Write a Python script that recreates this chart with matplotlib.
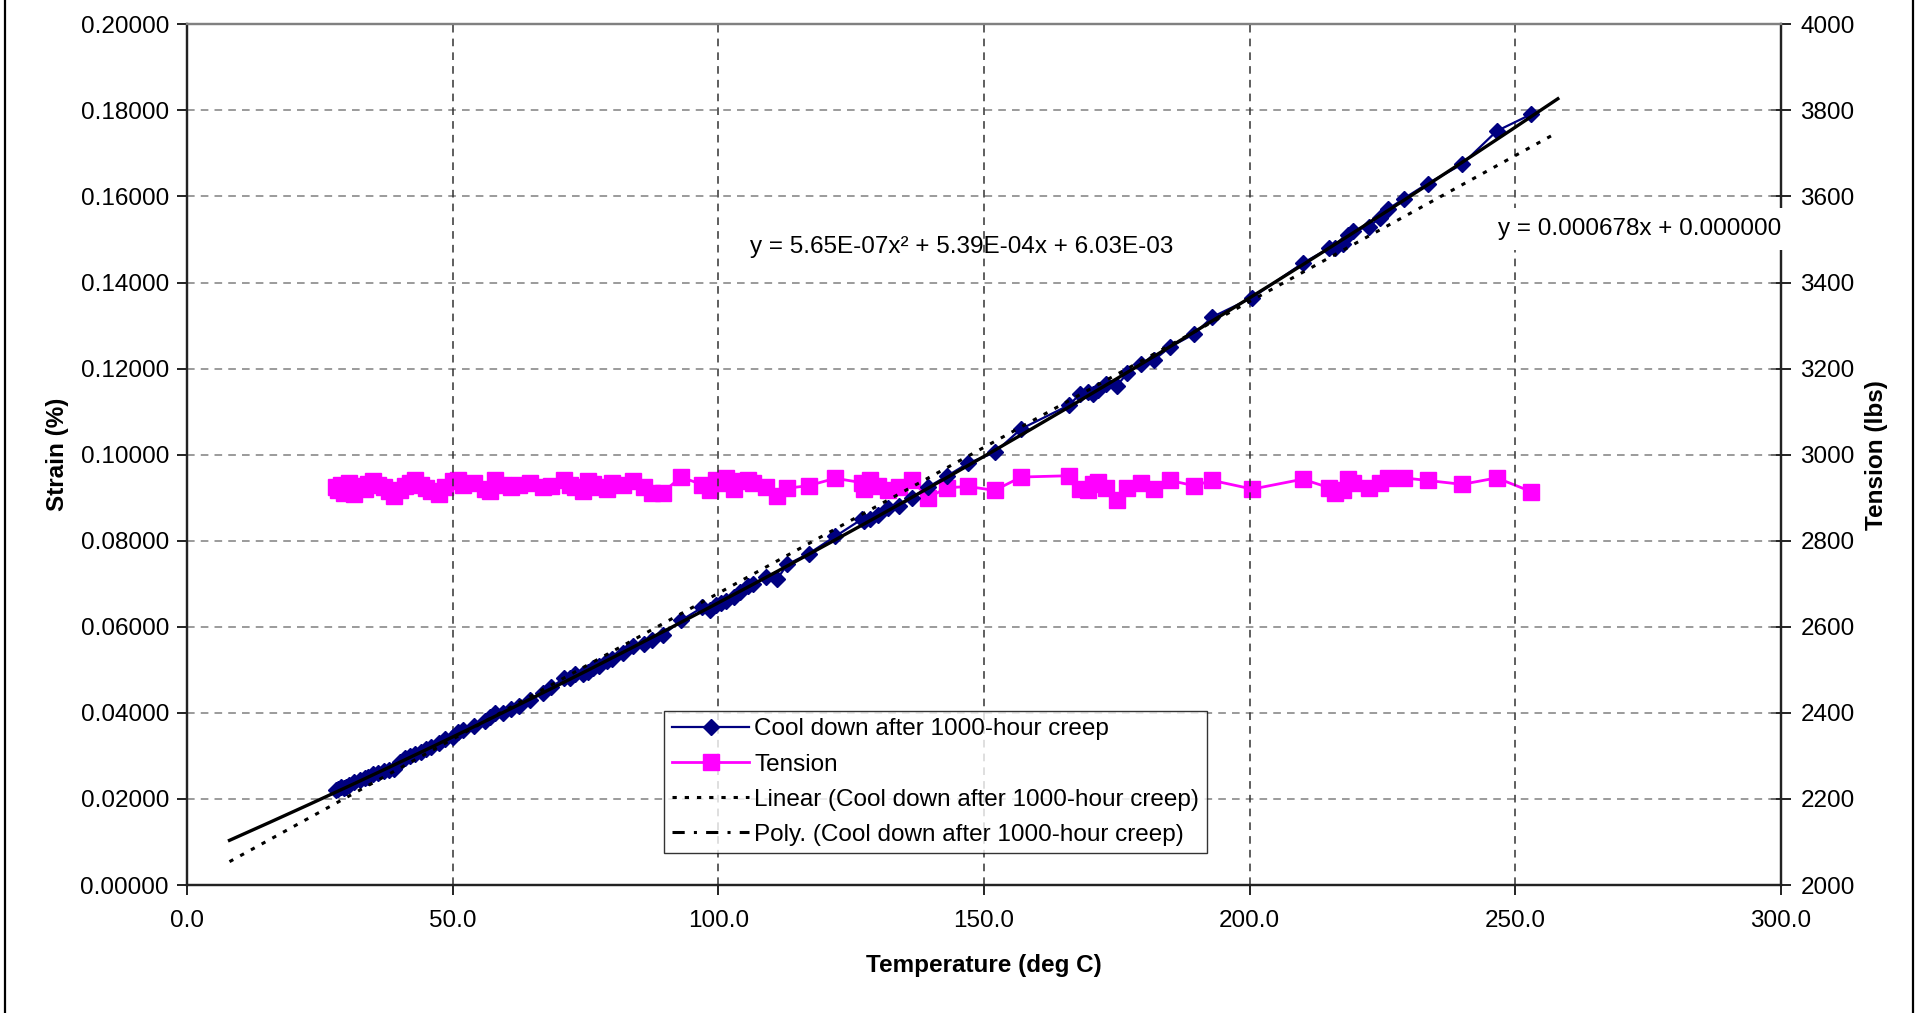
import matplotlib
matplotlib.use("Agg")
import matplotlib.pyplot as plt
from matplotlib.lines import Line2D
from matplotlib.ticker import FormatStrFormatter
import numpy as np

plt.rcParams['font.family'] = ['Liberation Sans', 'DejaVu Sans']

temperature = [
    28, 28.5, 29, 29.5, 30, 30.5, 31.5, 32.5, 33.5, 34,
    35, 36, 37, 38, 39, 40, 41, 42, 43, 44,
    45, 46, 47.5, 48.5, 50, 51, 52, 54, 56, 57,
    58, 59.5, 61, 62.5, 64.5, 67, 68.5, 71, 72, 73,
    74.5, 75.5, 76.5, 77.5, 79, 80, 82, 84, 86, 87.5,
    89.5, 93, 97, 98.5, 99.5, 100.5, 101.5, 103, 104, 105.5,
    106.5, 109, 111, 113, 117, 122, 127, 127.5, 128.5, 130,
    132, 134, 136.5, 139.5, 143, 147, 152, 157, 166, 168,
    169.5, 170.5, 171.5, 173, 175, 177, 179.5, 182, 185, 189.5,
    193, 200.5, 210, 215, 216, 217.5, 218.5, 219.5, 222.5, 224.5,
    226, 229, 233.5, 240, 246.5, 253]

strain = [
    0.0220, 0.0224, 0.0228, 0.0225, 0.0228, 0.0232, 0.0240, 0.0245, 0.0248, 0.0250,
    0.0258, 0.0260, 0.0265, 0.0268, 0.0270, 0.0285, 0.0295, 0.0300, 0.0305, 0.0310,
    0.0315, 0.0320, 0.0330, 0.0340, 0.0345, 0.0355, 0.0360, 0.0370, 0.0380, 0.0390,
    0.0400, 0.0400, 0.0410, 0.0415, 0.0430, 0.0445, 0.0460, 0.0480, 0.0480, 0.0490,
    0.0490, 0.0495, 0.0505, 0.0510, 0.0520, 0.0525, 0.0540, 0.0555, 0.0560, 0.0570,
    0.0580, 0.0615, 0.0645, 0.0640, 0.0650, 0.0655, 0.0660, 0.0670, 0.0680, 0.0695,
    0.0700, 0.0715, 0.0710, 0.0745, 0.0770, 0.0810, 0.0850, 0.0845, 0.0850, 0.0860,
    0.0875, 0.0880, 0.0900, 0.0925, 0.0950, 0.0980, 0.1005, 0.1060, 0.1115, 0.1140,
    0.1145, 0.1140, 0.1150, 0.1165, 0.1160, 0.1190, 0.1210, 0.1220, 0.1250, 0.1280,
    0.1320, 0.1365, 0.1445, 0.1480, 0.1480, 0.1490, 0.1510, 0.1520, 0.1530, 0.1550,
    0.1570, 0.1595, 0.1630, 0.1675, 0.1752, 0.1791]

tension = [
    2925, 2918, 2930, 2912, 2922, 2935, 2908, 2928, 2920, 2932,
    2938, 2930, 2925, 2915, 2905, 2918, 2928, 2935, 2940, 2930,
    2922, 2915, 2908, 2925, 2938, 2942, 2930, 2935, 2920, 2915,
    2940, 2930, 2925, 2930, 2935, 2925, 2928, 2940, 2930, 2925,
    2915, 2938, 2932, 2925, 2920, 2935, 2930, 2938, 2925, 2912,
    2912, 2948, 2930, 2918, 2940, 2935, 2945, 2920, 2938, 2942,
    2935, 2925, 2905, 2922, 2928, 2945, 2935, 2920, 2940, 2928,
    2918, 2925, 2940, 2900, 2923, 2926, 2917, 2948, 2951, 2920,
    2917, 2931, 2937, 2923, 2894, 2923, 2934, 2920, 2940, 2928,
    2940, 2920, 2943, 2923, 2911, 2917, 2943, 2934, 2923, 2934,
    2946, 2946, 2940, 2931, 2946, 2914]

# Trendline coefficients as displayed on the chart
linear_coef = [0.000678, 0.000000]
poly_coef = [5.65e-07, 5.39e-04, 6.03e-03]
trend_range = [8, 258]

x_ticks = [0, 50, 100, 150, 200, 250, 300]
strain_ticks = [0.00, 0.02, 0.04, 0.06, 0.08, 0.10, 0.12, 0.14, 0.16, 0.18, 0.20]
tension_ticks = [2000, 2200, 2400, 2600, 2800, 3000, 3200, 3400, 3600, 3800, 4000]

W, H = 1933, 1013
fig = plt.figure(figsize=(W / 100, H / 100), dpi=100)
fig.patch.set_facecolor('white')

ax = fig.add_axes([187 / W, 1 - 885 / H, (1781 - 187) / W, (885 - 24.3) / H])
ax2 = ax.twinx()

FS = 17.5
spine_c = '#222222'

# grid
for y in strain_ticks[1:-1]:
    ax.axhline(y, color='#808080', lw=1.1, dashes=(5, 4), zorder=0)
for x in x_ticks[1:-1]:
    ax.axvline(x, color='#333333', lw=1.1, dashes=(5, 4), zorder=0)

# trendlines
xt = np.linspace(trend_range[0], trend_range[1], 200)
ax.plot(xt, np.polyval(linear_coef, xt), color='black', lw=2.2,
        linestyle=(0, (1.4, 2.6)), zorder=4)
ax.plot(xt, np.polyval(poly_coef, xt), color='black', lw=2.4, zorder=5)

# strain series
ax.plot(temperature, strain, color='#000080', lw=1.6, marker='D', markersize=8.5,
        markerfacecolor='#000080', markeredgecolor='#000080', zorder=3)

# tension series
ax2.plot(temperature, tension, color='#FF00FF', lw=2.0, marker='s', markersize=12,
         markerfacecolor='#FF00FF', markeredgecolor='#FF00FF', zorder=3)

ax.set_xlim(0, 300)
ax.set_ylim(0, 0.2)
ax2.set_ylim(2000, 4000)
ax.set_xticks(x_ticks)
ax.set_yticks(strain_ticks)
ax2.set_yticks(tension_ticks)
ax.xaxis.set_major_formatter(FormatStrFormatter('%.1f'))
ax.yaxis.set_major_formatter(FormatStrFormatter('%.5f'))
ax2.yaxis.set_major_formatter(FormatStrFormatter('%d'))

ax.tick_params(axis='x', direction='out', length=7, width=1.4, color=spine_c,
               labelsize=FS, pad=11)
ax.tick_params(axis='y', direction='out', length=7, width=1.4, color=spine_c,
               labelsize=FS, pad=6)
ax2.tick_params(axis='y', direction='inout', length=14, width=1.4, color=spine_c,
                labelsize=FS, pad=7)

for a in (ax, ax2):
    for s in ('left', 'right', 'bottom'):
        a.spines[s].set_color(spine_c)
        a.spines[s].set_linewidth(1.6)
    a.spines['top'].set_color('#808080')
    a.spines['top'].set_linewidth(1.6)

ax.set_zorder(ax2.get_zorder() + 1)
ax.patch.set_visible(False)

ax.set_xlabel('Temperature (deg C)', fontsize=FS, fontweight='bold', labelpad=16)
ax.set_ylabel('Strain (%)', fontsize=FS, fontweight='bold', labelpad=8)
ax2.set_ylabel('Tension (lbs)', fontsize=FS, fontweight='bold', rotation=90, labelpad=7)

# equations
ax.text(0.486, 0.741, 'y = 5.65E-07x² + 5.39E-04x + 6.03E-03', transform=ax.transAxes,
        fontsize=FS, ha='center', va='center', zorder=10)
ax.text(1.0, 0.762, 'y = 0.000678x + 0.000000', transform=ax.transAxes,
        fontsize=FS, ha='right', va='center', zorder=10, clip_on=False,
        bbox=dict(facecolor='white', edgecolor='none', pad=7))

# legend
handles = [
    Line2D([], [], color='#000080', lw=1.6, marker='D', markersize=8.5),
    Line2D([], [], color='#FF00FF', lw=2.0, marker='s', markersize=12),
    Line2D([], [], color='black', lw=2.2, linestyle=(0, (1.4, 2.6))),
    Line2D([], [], color='black', lw=2.2, linestyle=(0, (4, 3, 1, 3))),
]
labels = ['Cool down after 1000-hour creep', 'Tension',
          'Linear (Cool down after 1000-hour creep)',
          'Poly. (Cool down after 1000-hour creep)']
leg = ax.legend(handles, labels, loc='lower left', bbox_to_anchor=(0.2995, 0.037),
                fontsize=FS, frameon=True, fancybox=False, handlelength=3.2,
                handletextpad=0.2, labelspacing=0.54, borderpad=0.3,
                borderaxespad=0)
leg.get_frame().set_edgecolor('black')
leg.get_frame().set_linewidth(1.0)
leg.set_zorder(20)

# chart area border
fig.add_artist(Line2D([5 / W, 5 / W], [0, 1], color='black', lw=1.6))
fig.add_artist(Line2D([1913 / W, 1913 / W], [0, 1], color='black', lw=1.6))

fig.savefig('out.png', dpi=100, facecolor='white')
